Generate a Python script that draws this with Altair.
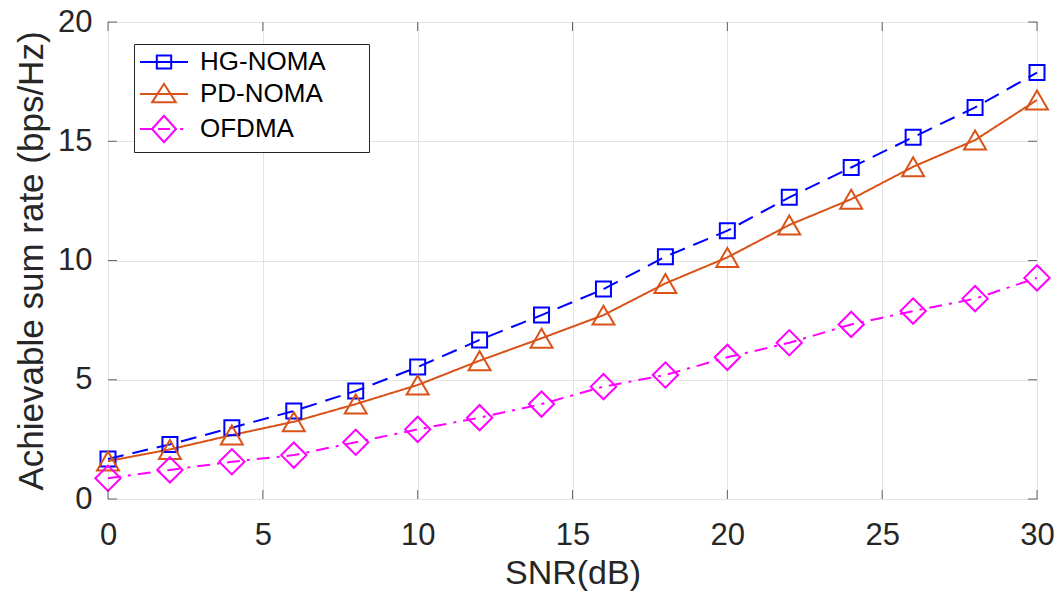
import altair as alt
import pandas as pd

# ---- data ----
snr = [0, 2, 4, 6, 8, 10, 12, 14, 16, 18, 20, 22, 24, 26, 28, 30]
hg_noma = [1.68, 2.29, 2.99, 3.69, 4.53, 5.53, 6.67, 7.71, 8.80, 10.16, 11.25, 12.65, 13.90, 15.17, 16.42, 17.88]
pd_noma = [1.59, 2.08, 2.68, 3.24, 3.98, 4.78, 5.80, 6.74, 7.71, 9.04, 10.13, 11.49, 12.57, 13.93, 15.05, 16.73]
ofdma = [0.87, 1.22, 1.56, 1.84, 2.38, 2.92, 3.41, 3.98, 4.71, 5.20, 5.94, 6.55, 7.32, 7.88, 8.40, 9.27]

series = ["HG-NOMA", "PD-NOMA", "OFDMA"]
colors = ["#0000FF", "#D95319", "#FF00FF"]
shapes = ["square", "triangle-up", "diamond"]
marker_sizes = [225, 480, 640]
dashes = [[16, 9], [1, 0], [13, 7, 3, 7]]
x_ticks = [0, 5, 10, 15, 20, 25, 30]
y_ticks = [0, 5, 10, 15, 20]

rows = []
for name, vals in zip(series, [hg_noma, pd_noma, ofdma]):
    for s, v in zip(snr, vals):
        rows.append({"snr": s, "rate": v, "scheme": name})
df = pd.DataFrame(rows)

FONT = "Liberation Sans"
TXT = "#262626"

xscale = alt.Scale(domain=[0, 30], nice=False, zero=False)
yscale = alt.Scale(domain=[0, 20], nice=False)
cscale = alt.Scale(domain=series, range=colors)

x_axis = alt.Axis(values=x_ticks, title="SNR(dB)", grid=True, ticks=False, domain=False,
                  labelFontSize=31, labelPadding=21, titleFontSize=34, titlePadding=6,
                  labelFlush=False)
y_axis = alt.Axis(values=y_ticks, title="Achievable sum rate (bps/Hz)", grid=True, ticks=False,
                  domain=False, labelFontSize=31, labelPadding=16, titleFontSize=35,
                  titlePadding=8)

# legend symbols: line with marker (units of 12 px)
sym_hg = "M-1,0H3M0.4,-0.55H1.6V0.55H0.4Z"
sym_pd = "M-1,0H3M0.02,0.68L1,-0.85L1.98,0.68Z"
sym_of = "M-1,0H0M0.5,0H1.5M2.35,0H2.6M0,0L1,-1.1L2,0L1,1.1Z"
sym_expr = ("datum.value === 'HG-NOMA' ? '%s' : (datum.value === 'PD-NOMA' ? '%s' : '%s')"
            % (sym_hg, sym_pd, sym_of))

legend = alt.Legend(
    title=None, orient="none", legendX=26, legendY=22,
    fillColor="white", strokeColor=TXT, padding=5, rowPadding=4,
    labelFont=FONT, labelFontSize=26, labelColor="black", labelOffset=35,
    labelLimit=300,
    symbolSize=576, symbolStrokeWidth=2, symbolType={"expr": sym_expr},
    symbolFillColor="transparent", symbolOpacity=1,
    labelExpr="datum.label + '" + "\u2800" * 2 + "'",
)

base = alt.Chart(df).encode(
    x=alt.X("snr:Q", scale=xscale, axis=x_axis),
    y=alt.Y("rate:Q", scale=yscale, axis=y_axis),
)

layers = []
for name, col, dash in zip(series, colors, dashes):
    layers.append(
        base.transform_filter(alt.datum.scheme == name)
        .mark_line(strokeWidth=2, strokeDash=dash, color=col)
    )
for name, col, shp, sz in zip(series, colors, shapes, marker_sizes):
    layers.append(
        base.transform_filter(alt.datum.scheme == name)
        .mark_point(filled=False, strokeWidth=2, opacity=1, shape=shp, size=sz, color=col)
    )

# invisible layer that only carries the legend
legend_layer = base.mark_point(opacity=0, filled=False).encode(
    color=alt.Color("scheme:N", scale=cscale, legend=legend)
)
layers.append(legend_layer)

xt = pd.DataFrame({"v": x_ticks})
yt = pd.DataFrame({"v": y_ticks})

tick_style = dict(size=9, thickness=1, color=TXT)
layers.append(alt.Chart(xt).mark_tick(orient="vertical", yOffset=-4.5, **tick_style).encode(
    x=alt.X("v:Q", scale=xscale, axis=x_axis),
    y=alt.YDatum(0, type="quantitative", scale=yscale, axis=y_axis),
))
layers.append(alt.Chart(xt).mark_tick(orient="vertical", yOffset=4.5, **tick_style).encode(
    x=alt.X("v:Q", scale=xscale, axis=x_axis),
    y=alt.YDatum(20, type="quantitative", scale=yscale, axis=y_axis),
))
layers.append(alt.Chart(yt).mark_tick(orient="horizontal", xOffset=4.5, **tick_style).encode(
    y=alt.Y("v:Q", scale=yscale, axis=y_axis),
    x=alt.XDatum(0, type="quantitative", scale=xscale, axis=x_axis),
))
layers.append(alt.Chart(yt).mark_tick(orient="horizontal", xOffset=-4.5, **tick_style).encode(
    y=alt.Y("v:Q", scale=yscale, axis=y_axis),
    x=alt.XDatum(30, type="quantitative", scale=xscale, axis=x_axis),
))

chart = alt.layer(*layers).properties(
    width=929, height=477,
    autosize=alt.AutoSizeParams(type="none"),
    padding={"left": 108, "top": 22, "right": 27, "bottom": 98},
    background="white",
).configure_view(
    stroke=TXT, strokeWidth=1
).configure_axis(
    labelFont=FONT, titleFont=FONT, labelColor=TXT, titleColor=TXT,
    titleFontWeight="normal", gridColor="#e3e3e3", gridWidth=1,
).configure_legend(
    labelFont=FONT,
)

chart.save("out.html", embed_options={"renderer": "svg", "actions": False})
